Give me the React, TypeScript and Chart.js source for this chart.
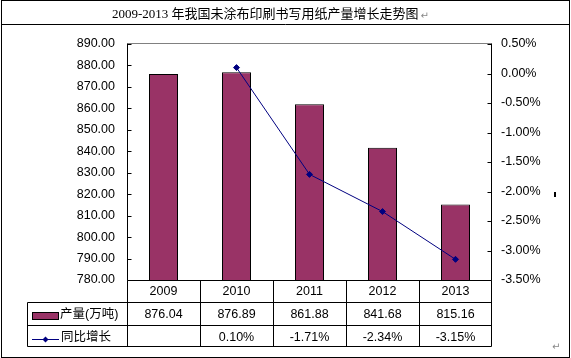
import React, { useEffect, useRef } from 'react';
import { Chart, registerables } from 'chart.js';

Chart.register(...registerables);

const TITLE = '2009-2013 年我国未涂布印刷书写用纸产量增长走势图';
const years = ['2009', '2010', '2011', '2012', '2013'];
const output = [876.04, 876.89, 861.88, 841.68, 815.16];
const growth: (number | null)[] = [null, 0.1, -1.71, -2.34, -3.15];
const seriesNames = ['产量(万吨)', '同比增长'];
const leftMin = 780;
const leftMax = 890;
const leftStep = 10;
const rightMin = -3.5;
const rightMax = 0.5;
const rightStep = 0.5;

const BAR = '#993366';
const LINE = '#000080';
const FONT = "'Liberation Sans', Arial, 'Noto Sans CJK SC', sans-serif";
const TITLE_FONT = "'Liberation Serif', 'Noto Sans CJK SC', serif";

const decor = {
  id: 'decor',
  afterDraw(chart: any) {
    const ctx = chart.ctx as CanvasRenderingContext2D;
    const { left, right, top, bottom } = chart.chartArea;
    const xs = chart.scales.x;
    const ys = chart.scales.y;
    const ys1 = chart.scales.y1;
    const L = Math.round(left) + 0.5;
    const R = Math.round(right) - 0.5;
    const T = Math.round(top) - 0.5;
    const B = Math.round(bottom) + 0.5;
    const hl = (x1: number, x2: number, y: number) => {
      ctx.beginPath(); ctx.moveTo(x1, y); ctx.lineTo(x2, y); ctx.stroke();
    };
    const vl = (x: number, y1: number, y2: number) => {
      ctx.beginPath(); ctx.moveTo(x, y1); ctx.lineTo(x, y2); ctx.stroke();
    };
    ctx.save();
    ctx.lineWidth = 1;
    ctx.strokeStyle = '#000';
    // outer frame and title separator
    ctx.strokeRect(1.5, 0.5, 568, 357);
    hl(1, 570, 24.5);
    // title
    ctx.fillStyle = '#000';
    ctx.font = `13px ${TITLE_FONT}`;
    ctx.textAlign = 'left';
    ctx.textBaseline = 'middle';
    ctx.fillText(TITLE, 112, 15);
    const tw = ctx.measureText(TITLE).width;
    ctx.fillStyle = '#888';
    ctx.font = `10px 'DejaVu Sans', sans-serif`;
    ctx.fillText('\u21B5', 112 + tw + 2, 16);
    ctx.fillText('\u21B5', 552, 347);
    // stray mark
    ctx.fillStyle = '#000';
    ctx.fillRect(554, 192, 2, 5);

    // plot top border
    ctx.strokeStyle = '#808080';
    hl(L, R, T);
    // axes
    ctx.strokeStyle = '#000';
    vl(L, T, B);
    vl(R, T, B);
    ys.ticks.forEach((t: any) => {
      const p = Math.round(ys.getPixelForValue(t.value)) + 0.5;
      hl(L, L + 4, p);
    });
    ys1.ticks.forEach((t: any) => {
      const p = Math.round(ys1.getPixelForValue(t.value)) + 0.5;
      hl(R - 4, R, p);
    });

    // data table
    const n = years.length;
    const cw = (right - left) / n;
    const r1 = 302.5, r2 = 325.5, r3 = 346.5;
    const TL = 27.5;
    hl(L, R, B);
    hl(TL, R, r1);
    hl(TL, R, r2);
    hl(TL, R, r3);
    vl(TL, r1, r3);
    for (let i = 0; i <= n; i++) {
      const ex = i === n ? R : Math.floor(left + cw * i) + 0.5;
      vl(ex, B, r3);
    }
    ctx.fillStyle = '#000';
    ctx.font = `12.5px ${FONT}`;
    ctx.textAlign = 'center';
    ctx.textBaseline = 'middle';
    for (let i = 0; i < n; i++) {
      const cx = xs.getPixelForValue(i);
      ctx.fillText(years[i], cx, 291.5);
      ctx.fillText(output[i].toFixed(2), cx, 315);
      const g = growth[i];
      if (g !== null && g !== undefined) ctx.fillText(g.toFixed(2) + '%', cx, 337.5);
    }
    // legend keys
    ctx.fillStyle = BAR;
    ctx.fillRect(32, 312, 27, 8);
    ctx.strokeStyle = '#000';
    ctx.strokeRect(32.5, 312.5, 26, 7);
    ctx.strokeStyle = LINE;
    hl(32, 59, 339.5);
    ctx.fillStyle = LINE;
    ctx.beginPath();
    ctx.moveTo(45.5, 336.5);
    ctx.lineTo(48.5, 339.5);
    ctx.lineTo(45.5, 342.5);
    ctx.lineTo(42.5, 339.5);
    ctx.closePath();
    ctx.fill();
    ctx.fillStyle = '#000';
    ctx.textAlign = 'left';
    ctx.fillText(seriesNames[0], 60, 315);
    ctx.fillText(seriesNames[1], 61, 337.5);
    ctx.restore();
  },
};

export default function App() {
  const ref = useRef<HTMLCanvasElement | null>(null);
  useEffect(() => {
    document.body.style.margin = '0';
    const canvas = ref.current;
    if (!canvas) return;
    const chart = new Chart(canvas, {
      type: 'bar',
      data: {
        labels: years,
        datasets: [
          {
            type: 'line',
            label: seriesNames[1],
            data: growth,
            yAxisID: 'y1',
            borderColor: LINE,
            backgroundColor: LINE,
            borderWidth: 1,
            pointStyle: 'rectRot',
            pointRadius: 3,
            pointBorderWidth: 1,
            pointBackgroundColor: LINE,
            pointBorderColor: LINE,
            tension: 0,
            order: 0,
          } as any,
          {
            type: 'bar',
            label: seriesNames[0],
            data: output,
            yAxisID: 'y',
            backgroundColor: BAR,
            borderColor: '#000',
            borderWidth: 1,
            barPercentage: 0.3973,
            categoryPercentage: 1,
            order: 1,
          } as any,
        ],
      },
      options: {
        responsive: false,
        animation: false,
        devicePixelRatio: 1,
        layout: { padding: { top: 44, bottom: 78, left: 0, right: 0 } },
        plugins: {
          legend: { display: false },
          tooltip: { enabled: false },
          title: { display: false },
        },
        scales: {
          x: { display: false, offset: true },
          y: {
            position: 'left',
            min: leftMin,
            max: leftMax,
            afterFit(s: any) { s.width = 127; },
            grid: { display: false, drawTicks: false },
            border: { display: false },
            ticks: {
              stepSize: leftStep,
              padding: 12,
              color: '#000',
              autoSkip: false,
              font: { family: FONT, size: 12.5 },
              callback: (v: any) => Number(v).toFixed(2),
            },
          },
          y1: {
            position: 'right',
            min: rightMin,
            max: rightMax,
            afterFit(s: any) { s.width = 79; },
            grid: { display: false, drawTicks: false },
            border: { display: false },
            ticks: {
              stepSize: rightStep,
              padding: 9,
              color: '#000',
              autoSkip: false,
              font: { family: FONT, size: 12.5 },
              callback: (v: any) => Number(v).toFixed(2) + '%',
            },
          },
        },
      } as any,
      plugins: [decor],
    });
    return () => chart.destroy();
  }, []);
  return (
    <div style={{ width: 571, height: 358 }}>
      <canvas ref={ref} width={571} height={358} style={{ display: 'block' }} />
    </div>
  );
}
